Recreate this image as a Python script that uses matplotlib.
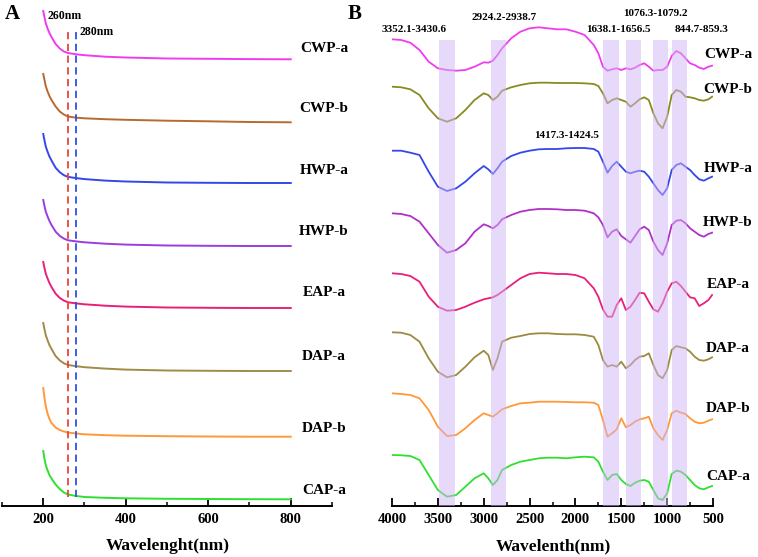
import matplotlib
matplotlib.use("Agg")
import matplotlib.pyplot as plt
from matplotlib.ticker import MultipleLocator

plt.rcParams['font.family'] = ['Liberation Serif', 'DejaVu Serif']
plt.rcParams['font.weight'] = 'bold'

# ---------------- Panel A: UV spectra (stacked, arbitrary units) ----------------
uv_wl = [200, 203, 206, 210, 215, 220, 230, 240, 250, 260, 280, 300, 350, 400, 500, 600, 700, 800]
uv_names = ["CWP-a", "CWP-b", "HWP-a", "HWP-b", "EAP-a", "DAP-a", "DAP-b", "CAP-a"]
uv_colors = ["#F03CF0", "#B86A2E", "#3447E8", "#9A3CE0", "#E8207A", "#A08C48", "#FF9838", "#30E030"]
# curve heights (picture rows measured from the top, stacked)
uv_cwpa = [11, 17, 23, 28, 33, 37, 44, 48.5, 51.5, 53, 54.3, 55.2, 56.7, 57.5, 58.5, 58.8, 59.1, 59.3]
uv_cwpb = [74, 80, 86, 91, 96, 100, 106.5, 111.5, 114.5, 116.5, 117.7, 118.3, 119.2, 119.8, 120.7, 121.3, 122, 122.3]
uv_hwpa = [134, 140.4, 146.3, 151.2, 156.5, 160.5, 167.8, 172.2, 175.2, 176.9, 178.1, 179.1, 180.6, 181.5, 182.5, 182.8, 183, 183]
uv_hwpb = [200, 206, 211.5, 216, 221, 225, 231.7, 235.9, 238.6, 240.3, 241.4, 242.3, 243.7, 244.6, 245.5, 245.8, 246, 246]
uv_eapa = [262, 268, 273.5, 278, 283, 287, 293.7, 297.9, 300.6, 302.3, 303.4, 304.3, 305.7, 306.6, 307.5, 307.8, 308, 308]
uv_dapa = [323, 329.2, 335, 339.8, 345.1, 348.9, 356.1, 360.4, 363.3, 365, 366.2, 367.2, 368.6, 369.6, 370.5, 370.8, 371, 371]
uv_dapb = [388, 398, 406, 413, 419, 423, 427.5, 430, 431.5, 432.5, 433.5, 434.3, 435.2, 435.7, 436.2, 436.5, 436.7, 436.7]
uv_capa = [451, 459, 465, 470, 475, 478.5, 484.5, 489, 492.5, 494.5, 496, 497, 497.8, 498.3, 498.8, 499, 499.2, 499.3]
uv_series = [uv_cwpa, uv_cwpb, uv_hwpa, uv_hwpb, uv_eapa, uv_dapa, uv_dapb, uv_capa]
uv_marks = [260, 280]
uv_mark_labels = ["260nm", "280nm"]
uv_mark_colors = ["#E8453C", "#3050E0"]

# ---------------- Panel B: FT-IR spectra ----------------
ir_wn = [4000, 3900, 3800, 3700, 3600, 3500, 3400, 3300, 3200, 3100, 3000, 2950, 2900, 2850, 2800,
         2700, 2600, 2500, 2400, 2300, 2200, 2100, 2000, 1900, 1800, 1750, 1700, 1650, 1600, 1550,
         1500, 1450, 1400, 1350, 1300, 1250, 1200, 1150, 1100, 1050, 1000, 950, 900, 850, 800,
         750, 700, 650, 600, 550, 510]
ir_names = ["CWP-a", "CWP-b", "HWP-a", "HWP-b", "EAP-a", "DAP-a", "DAP-b", "CAP-a"]
ir_colors = ["#F03CF0", "#8A8A22", "#3447E8", "#B030C8", "#E8207A", "#9C8A40", "#FF9838", "#30E030"]
ir_cwpa = [39.3, 40, 42.7, 50, 61.7, 68.3, 70, 70.7, 70, 66.7, 62.3, 62.7, 60.7, 55, 48.3,
           38.3, 31.7, 28.3, 27.3, 28.3, 29.3, 29.3, 31.7, 35, 45, 53.3, 66.7, 70.7, 69.3, 68.3,
           70, 68.3, 69.3, 67.7, 65, 63.3, 66.7, 70.7, 70, 70, 66.7, 56, 51, 53.3, 58.3,
           63.3, 65, 67.7, 69, 66.7, 65.7]
ir_cwpb = [86.7, 87.3, 89.3, 95, 108.3, 118.3, 121.7, 118.3, 110, 100, 93.3, 95, 100, 96.7, 90.7,
           87.3, 85, 83.3, 82.7, 82.7, 83, 83, 83, 83.3, 84, 86, 93.3, 103.3, 100, 98.3,
           100, 101.7, 106.7, 103.3, 99.3, 97.3, 100, 113.3, 123.3, 128.3, 116.7, 95, 90, 91.7, 96.7,
           97.3, 98.3, 100, 100.7, 99.3, 96.7]
ir_hwpa = [150.7, 150.7, 152.7, 155, 171.7, 186.7, 191, 188.3, 181.7, 173.3, 166, 169.3, 174, 168.3, 161.7,
           156, 152.7, 150.7, 149.3, 149, 149, 148.3, 148, 148, 149, 151.7, 161.7, 172.7, 166, 161.7,
           166.7, 171.7, 173.3, 171.7, 170.7, 171.7, 176.7, 183.3, 190, 195, 188.3, 170, 165, 163.3, 166.7,
           170, 175, 179.3, 180.7, 178.3, 176.7]
ir_hwpb = [213.3, 214, 216, 221.7, 233.3, 245, 252.7, 250, 243.3, 231.7, 224.3, 226, 228.3, 225, 219.3,
           215, 211.7, 210, 209, 209, 209.3, 210, 210, 210.7, 213.3, 217.3, 225, 237.3, 231.7, 229.3,
           236, 239.3, 242.7, 236, 229.3, 226.7, 230, 241.7, 250, 255, 243.3, 225, 220.7, 220, 223.3,
           228.3, 231.7, 235, 236.7, 234, 232.7]
ir_eapa = [273.3, 274, 276, 281.7, 296.7, 306.7, 310.7, 310, 306.7, 302.7, 299.3, 298.3, 297.3, 295, 291.7,
           285, 278.3, 274, 272.7, 273.3, 274, 274, 275, 278.3, 288.3, 296.7, 309.3, 316.7, 316.7, 305,
           298.3, 310, 306.7, 300, 292.7, 293.3, 301.7, 309.3, 311.7, 303.3, 291.7, 283.3, 281.7, 286, 291.7,
           297.3, 298.3, 306, 303.3, 300, 295]
ir_dapa = [332.3, 332.7, 335, 341.7, 358.3, 371.7, 377.3, 375, 366.7, 357.3, 350.7, 355, 370, 358.3, 341.7,
           337.7, 336, 334, 333.3, 333.3, 334, 334.3, 334.3, 335, 336.7, 345, 360, 366.7, 365, 366.7,
           361.7, 368.3, 365, 360, 356.7, 356, 353.3, 365, 375, 378.3, 370, 350, 346, 347.3, 348.3,
           351.7, 356.7, 360, 360.7, 359.3, 357.3]
ir_dapb = [393.3, 394, 395, 398.3, 410, 426.7, 436, 435, 428.3, 420, 413.3, 415, 416.7, 413.3, 409.3,
           406, 403.3, 402.7, 401.7, 401.7, 401.7, 402, 402.3, 402.3, 402.7, 405, 420, 436.7, 433.3, 429.3,
           418.3, 427.3, 425, 421.7, 419.3, 418.3, 416.7, 428.3, 435, 440, 430, 413.3, 410.7, 412.7, 414,
           418.3, 421.7, 423.3, 422.7, 420.7, 419.3]
ir_capa = [455, 455.3, 456, 460, 475, 490, 496.7, 495, 486.7, 478.3, 473.3, 478.3, 485, 480, 470,
           465, 461.7, 460, 458.3, 457.7, 457.7, 458.3, 457.3, 456.7, 457.3, 461.7, 471.7, 480, 475, 474,
           480, 484, 486, 482.7, 480.7, 480, 481.7, 490, 498.3, 500, 493.3, 474, 470.7, 471.7, 475,
           480, 485, 488.3, 489.3, 487.3, 486]
ir_series = [ir_cwpa, ir_cwpb, ir_hwpa, ir_hwpb, ir_eapa, ir_dapa, ir_dapb, ir_capa]
band_ranges = [(3484, 3317), (2924, 2757), (1699, 1528), (1449, 1282), (1158, 991), (947, 783)]
band_labels = ["3352.1-3430.6", "2924.2-2938.7", "1638.1-1656.5", "1076.3-1079.2", "844.7-859.3", "1417.3-1424.5"]

W, H = 758, 557
BASE = 506.0  # picture row of both x axes

fig = plt.figure(figsize=(W / 100, H / 100), dpi=100)

def fx(px):
    return px / W

def fy(py):
    return 1 - py / H

# ---- Panel A
axA = fig.add_axes([fx(2), fy(BASE), fx(330), BASE / H])
for vals, col in zip(uv_series, uv_colors):
    axA.plot(uv_wl, [BASE - v for v in vals], color=col, lw=1.4, zorder=2)
for wl, col in zip(uv_marks, uv_mark_colors):
    axA.plot([wl, wl], [BASE - 497, BASE - 28], color=col, lw=1.3, ls=(0, (4, 2.5)), zorder=3)
axA.set_xlim(100, 900)
axA.set_ylim(0, BASE)
axA.set_xticks([200, 400, 600, 800])
axA.xaxis.set_minor_locator(MultipleLocator(100))

# ---- Panel B
axB = fig.add_axes([fx(392), fy(BASE), fx(321), BASE / H])
for vals, col in zip(ir_series, ir_colors):
    axB.plot(ir_wn, [BASE - v for v in vals], color=col, lw=1.3, zorder=2)
for lo, hi in band_ranges:
    axB.axvspan(hi, lo, ymin=0, ymax=(BASE - 40) / BASE, color=(209 / 255, 181 / 255, 245 / 255),
                alpha=0.5, lw=0, zorder=3)
axB.set_xlim(4000, 500)
axB.set_ylim(0, BASE)
axB.xaxis.set_major_locator(MultipleLocator(500))
axB.xaxis.set_minor_locator(MultipleLocator(250))

for ax in (axA, axB):
    for s in ("left", "right", "top"):
        ax.spines[s].set_visible(False)
    ax.spines["bottom"].set_linewidth(1.4)
    ax.set_yticks([])
    ax.patch.set_alpha(0)
    ax.tick_params(axis="x", which="major", direction="in", length=6, width=1.3, pad=5,
                   labelsize=10.5)
    ax.tick_params(axis="x", which="minor", direction="in", length=3, width=1.1)
    for lab in ax.get_xticklabels():
        lab.set_fontweight("bold")

# ---- texts
tkw = dict(fontweight="bold", ha="center", va="center")
fig.text(fx(12), fy(14), "A", fontsize=15, **tkw)
fig.text(fx(355), fy(14), "B", fontsize=15, **tkw)
fig.text(fx(65), fy(16), uv_mark_labels[0], fontsize=8.5, **tkw)
fig.text(fx(97), fy(32), uv_mark_labels[1], fontsize=8.5, **tkw)
fig.text(fx(168), fy(546), "Wavelenght(nm)", fontsize=12.5, **tkw)
fig.text(fx(553), fy(546), "Wavelenth(nm)", fontsize=12.5, **tkw)

uv_label_y = [48, 108, 170, 232, 293, 357, 428, 490]
for name, y in zip(uv_names, uv_label_y):
    fig.text(fx(324), fy(y), name, fontsize=11, **tkw)
ir_label_y = [55, 90, 168, 222, 285, 348, 409, 477]
for name, y in zip(ir_names, ir_label_y):
    fig.text(fx(728), fy(y), name, fontsize=11, **tkw)

band_label_pos = [(414, 30), (504, 18), (618, 30), (655, 13), (702, 30), (567, 135)]
for lab, (x, y) in zip(band_labels, band_label_pos):
    fig.text(fx(x), fy(y), lab, fontsize=8, **tkw)

fig.savefig("out.png", dpi=100)
